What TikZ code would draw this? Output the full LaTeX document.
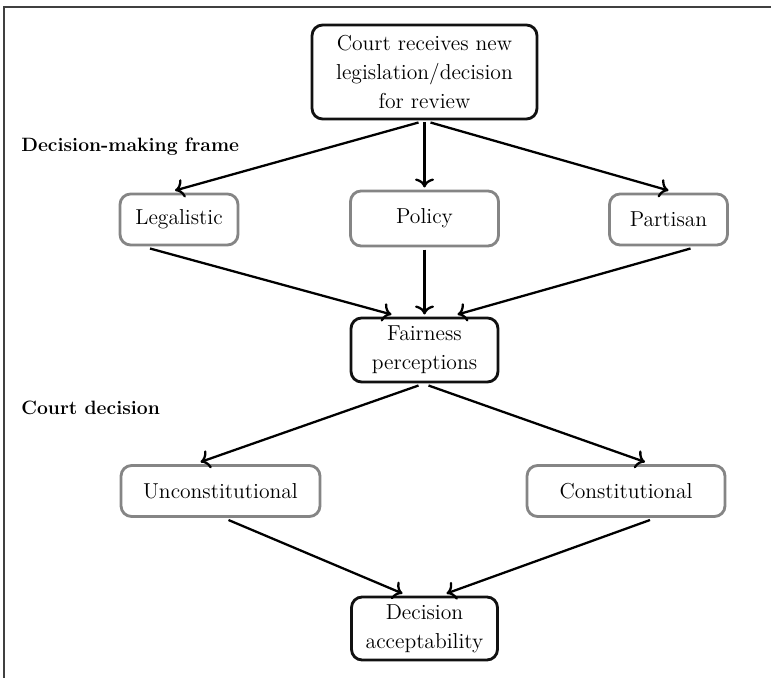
\documentclass[tikz,border=0pt]{standalone}
\usepackage{tikz}
\usetikzlibrary{arrows.meta}
\usetikzlibrary{calc}
\definecolor{tikz-block}{HTML}{111111}
\definecolor{tikz-frame}{HTML}{858585}
\tikzset{every text node part/.style={align=center, font={\fontsize{12.3}{16.5}\selectfont}}}
\tikzstyle{block} = [draw=tikz-block, fill=white, rounded corners=6pt, line width=1.6pt, outer sep=2pt]
\tikzstyle{ln} = [draw, line width=1.3pt, arrows={-To[scale=1.15]}]

\begin{document}
\begin{tikzpicture}[x=0.02cm, y=-0.02cm,
        frame-block/.style={block, draw=tikz-frame, minimum height=1.02cm},
        group-label/.style={anchor=west, inner sep=0pt, every text node part/.style={font={\bfseries\fontsize{11}{13}\selectfont}}}
      ]
      \useasboundingbox (0,0) rectangle (771,678);
      \draw[line width=0.7pt, black!75] (4,678) -- (4,7) -- (771,7);
      \node[block, minimum width=4.5cm, minimum height=1.88cm] (court) at (424.5,72) {Court receives new\\legislation/decision\\for review};
      \node[group-label]       (frame-label) at (21,147)       {Decision-making frame};
      \node[frame-block, minimum width=2.36cm]  (legal)    at (179,219.5)   {Legalistic};
      \node[frame-block, minimum width=2.96cm, minimum height=1.1cm]  (policy)   at (424.5,218.5) {Policy};
      \node[frame-block, minimum width=2.36cm]  (partisan) at (668.5,219.5) {Partisan};
      \node[block, minimum width=2.94cm, minimum height=1.28cm] (fair) at (424.5,350) {Fairness\\perceptions};
      \node[group-label]       (decision-label) at (21,408)    {Court decision};
      \node[frame-block, minimum width=3.98cm]  (unconst)  at (220.5,491)   {Unconstitutional};
      \node[frame-block, minimum width=3.96cm]  (const)    at (626,491)     {Constitutional};
      \node[block, minimum width=2.92cm, minimum height=1.26cm] (accept) at (424.5,628.5) {Decision\\acceptability};
      \draw[ln]                ($(court.south)+(-6,0)$)     --     ($(legal.north)+(-4,0)$);
      \draw[ln]                (court.south)                --     (policy.north);
      \draw[ln]                ($(court.south)+(6,0)$)      --     (partisan.north);
      \draw[ln]                ($(legal.south)+(-29,0)$)    --     ($(fair.north)+(-33,0)$);
      \draw[ln]                (policy.south)               --     (fair.north);
      \draw[ln]                ($(partisan.south)+(22,0)$)  --     ($(fair.north)+(33,0)$);
      \draw[ln]                ($(fair.south)+(-6,0)$)      --     ($(unconst.north)+(-20,0)$);
      \draw[ln]                ($(fair.south)+(4,0)$)       --     ($(const.north)+(19,0)$);
      \draw[ln]                ($(unconst.south)+(8,0)$)    --     ($(accept.north)+(-22,0)$);
      \draw[ln]                ($(const.south)+(24,0)$)     --     ($(accept.north)+(22,0)$);
    \end{tikzpicture}
\end{document}
